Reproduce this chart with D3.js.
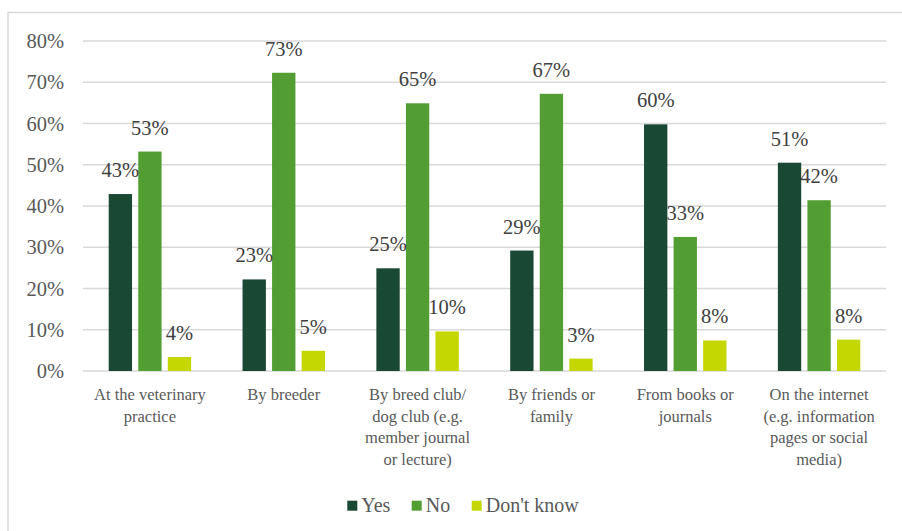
<!DOCTYPE html>
<html>
<head>
<meta charset="utf-8">
<script src="https://cdn.jsdelivr.net/npm/d3@7/dist/d3.min.js"></script>
<style>
  html, body { margin: 0; padding: 0; background: #fff; }
  svg { display: block; }
  svg text { font-family: "Liberation Serif", "Times New Roman", serif !important; }
</style>
</head>
<body>
<svg id="chart" width="902" height="531"></svg>
<script>
// ---- Data ----
const categories = [
  "At the veterinary\npractice",
  "By breeder",
  "By breed club/\ndog club (e.g.\nmember journal\nor lecture)",
  "By friends or\nfamily",
  "From books or\njournals",
  "On the internet\n(e.g. information\npages or social\nmedia)"
];
const seriesNames = ["Yes", "No", "Don't know"];
const yesValues = [42.9, 22.2, 24.9, 29.2, 59.8, 50.5];
const noValues = [53.2, 72.3, 64.9, 67.2, 32.5, 41.4];
const dontKnowValues = [3.4, 4.9, 9.6, 3.0, 7.4, 7.6];
const yesLabels = ["43%", "23%", "25%", "29%", "60%", "51%"];
const noLabels = ["53%", "73%", "65%", "67%", "33%", "42%"];
const dontKnowLabels = ["4%", "5%", "10%", "3%", "8%", "8%"];
const yTicks = [0, 10, 20, 30, 40, 50, 60, 70, 80];

// ---- Setup ----
const colors = ["#194834", "#529e32", "#c4d700"];
const seriesValues = [yesValues, noValues, dontKnowValues];
const seriesLabels = [yesLabels, noLabels, dontKnowLabels];
const serif = "'Liberation Serif', 'Times New Roman', serif";

const svg = d3.select("#chart");
const plot = { left: 83, right: 886, top: 41, bottom: 371 };

// outer chart border
svg.append("rect")
  .attr("x", 8).attr("y", 12.5)
  .attr("width", 1000).attr("height", 1000)
  .attr("fill", "none").attr("stroke", "#d9d9d9").attr("stroke-width", 1.5);

const x0 = d3.scaleBand()
  .domain(d3.range(categories.length))
  .range([plot.left, plot.right])
  .paddingInner(0.384).paddingOuter(0.192);
const x1 = d3.scaleBand()
  .domain(d3.range(seriesNames.length))
  .range([0, x0.bandwidth()])
  .paddingInner(0.21).paddingOuter(0);
const y = d3.scaleLinear().domain([0, 80]).range([plot.bottom, plot.top]);

// gridlines
svg.append("g").selectAll("line")
  .data(yTicks).join("line")
  .attr("x1", plot.left).attr("x2", plot.right)
  .attr("y1", d => y(d)).attr("y2", d => y(d))
  .attr("stroke", "#d9d9d9").attr("stroke-width", 1.5);

// y axis labels
const yAxis = d3.axisLeft(y).tickValues(yTicks).tickFormat(d => d + "%").tickSize(0).tickPadding(19);
const gy = svg.append("g").attr("transform", `translate(${plot.left},0)`).call(yAxis)
  .attr("font-family", serif);
gy.select(".domain").remove();
gy.selectAll("text")
  .style("font-family", serif)
  .attr("font-size", "20.5px").attr("fill", "#595959");

// bars
const groups = svg.append("g").selectAll("g")
  .data(categories.map((c, i) => i)).join("g")
  .attr("transform", i => `translate(${x0(i)},0)`);

groups.selectAll("rect")
  .data(i => seriesValues.map((vals, s) => ({ s, v: vals[i] })))
  .join("rect")
  .attr("x", d => x1(d.s))
  .attr("width", x1.bandwidth())
  .attr("y", d => y(d.v))
  .attr("height", d => y(0) - y(d.v))
  .attr("fill", d => colors[d.s]);

// data labels
groups.selectAll("text.lbl")
  .data(i => seriesValues.map((vals, s) => ({ s, v: vals[i], t: seriesLabels[s][i] })))
  .join("text")
  .attr("class", "lbl")
  .attr("x", d => x1(d.s) + x1.bandwidth() / 2)
  .attr("y", d => y(d.v) - 17)
  .attr("text-anchor", "middle")
  .style("font-family", serif)
  .attr("font-size", "20.5px")
  .attr("fill", "#404040")
  .text(d => d.t);

// x axis category labels
const xl = svg.append("g").selectAll("text")
  .data(categories).join("text")
  .attr("x", (d, i) => x0(i) + x0.bandwidth() / 2)
  .attr("y", 400)
  .attr("text-anchor", "middle")
  .style("font-family", serif)
  .attr("font-size", "16.5px")
  .attr("fill", "#595959");
xl.each(function(d) {
  const t = d3.select(this);
  d.split("\n").forEach((line, k) => {
    t.append("tspan")
      .attr("x", t.attr("x"))
      .attr("dy", k === 0 ? 0 : 21.5)
      .text(line);
  });
});

// legend
const legendX = [347.3, 411.7, 471.7];
const legend = svg.append("g").selectAll("g")
  .data(seriesNames).join("g")
  .attr("transform", (d, i) => `translate(${legendX[i]},0)`);
legend.append("rect")
  .attr("x", 0).attr("y", 500.7).attr("width", 10).attr("height", 10)
  .attr("fill", (d, i) => colors[i]);
legend.append("text")
  .attr("x", 14).attr("y", 511.5)
  .style("font-family", serif)
  .attr("font-size", "20px").attr("fill", "#595959")
  .text(d => d);
</script>
</body>
</html>
